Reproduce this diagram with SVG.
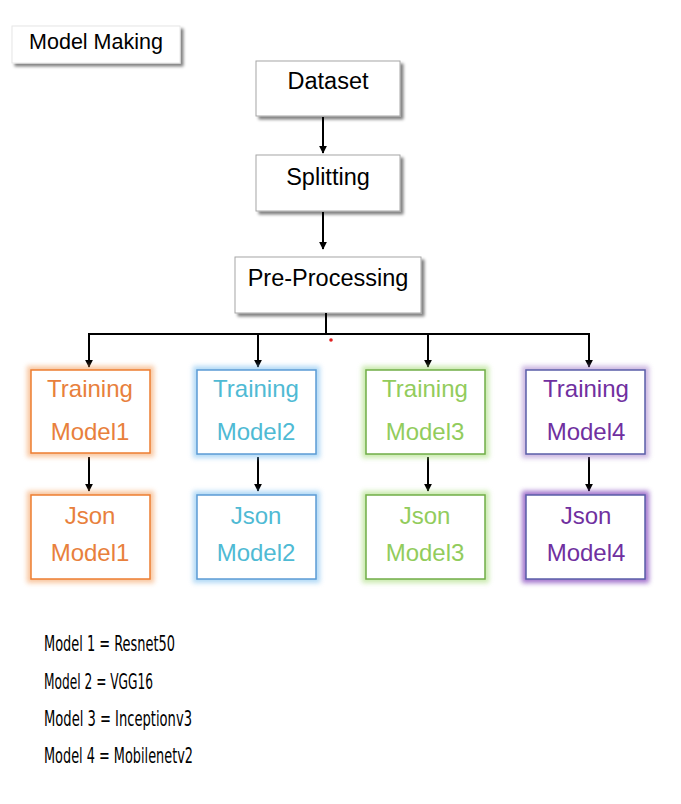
<svg xmlns="http://www.w3.org/2000/svg" width="681" height="804" viewBox="0 0 681 804">
<defs>
  <filter id="shadow" x="-20%" y="-20%" width="140%" height="150%">
    <feGaussianBlur in="SourceAlpha" stdDeviation="1.5"/>
    <feOffset dx="3" dy="3" result="b"/>
    <feComponentTransfer><feFuncA type="linear" slope="0.5"/></feComponentTransfer>
    <feMerge><feMergeNode/><feMergeNode in="SourceGraphic"/></feMerge>
  </filter>
  <filter id="glow" x="-20%" y="-20%" width="140%" height="140%">
    <feGaussianBlur stdDeviation="2.5"/>
  </filter>
  <marker id="arr" viewBox="0 0 10 10" refX="9" refY="5" markerWidth="4" markerHeight="4" orient="auto" markerUnits="strokeWidth">
    <path d="M0,0 L10,5 L0,10 z" fill="#000"/>
  </marker>
</defs>
<style>
  .box{fill:#fff;stroke:#a6a6a6;stroke-width:1}
  .t{font-family:"Liberation Sans",Arial,sans-serif;font-size:23.5px;text-anchor:middle}
  .m{font-family:"Liberation Sans",Arial,sans-serif;font-size:24px;text-anchor:middle}
  .leg{font-family:"DejaVu Sans Condensed","DejaVu Sans",sans-serif;font-size:21px;fill:#000}
  .c{fill:none;stroke:#000;stroke-width:2}
  .ca{fill:none;stroke:#000;stroke-width:2;marker-end:url(#arr)}
  .g{fill:none;stroke-width:8;filter:url(#glow);opacity:0.6}
  .in{fill:#fff;stroke-width:1.5}
</style>
<rect width="681" height="804" fill="#fff"/>

<g id="title">
  <rect x="12" y="26" width="168" height="37" class="box" style="stroke:#e6e6e6" filter="url(#shadow)"/>
  <text x="96" y="49" class="t" fill="#000" style="font-size:21.5px">Model Making</text>
</g>

<g id="dataset">
  <rect x="256" y="61" width="144" height="55" class="box" filter="url(#shadow)"/>
  <text x="328" y="89" class="t" fill="#000">Dataset</text>
</g>
<g id="splitting">
  <rect x="256" y="155" width="144" height="56" class="box" filter="url(#shadow)"/>
  <text x="328" y="185" class="t" fill="#000">Splitting</text>
</g>
<g id="preprocessing">
  <rect x="235" y="257" width="186" height="56" class="box" filter="url(#shadow)"/>
  <text x="328" y="286" class="t" fill="#000">Pre-Processing</text>
</g>

<g id="connectors">
  <line x1="323" y1="117" x2="323" y2="153" class="ca"/>
  <line x1="323" y1="212" x2="323" y2="249" class="ca"/>
  <polyline points="326,313 326,334" class="c"/>
  <line x1="88" y1="334" x2="590" y2="334" class="c"/>
  <line x1="89" y1="334" x2="89" y2="367" class="ca"/>
  <line x1="258" y1="334" x2="258" y2="367" class="ca"/>
  <line x1="428" y1="334" x2="428" y2="367" class="ca"/>
  <line x1="589" y1="334" x2="589" y2="367" class="ca"/>
  <line x1="89" y1="457" x2="89" y2="491" class="ca"/>
  <line x1="258" y1="457" x2="258" y2="491" class="ca"/>
  <line x1="428" y1="457" x2="428" y2="491" class="ca"/>
  <line x1="589" y1="457" x2="589" y2="491" class="ca"/>
  <circle cx="331" cy="340" r="1.8" fill="#e02020"/>
</g>

<g id="training1">
  <rect x="31" y="370" width="119" height="83" class="g" stroke="#f4a060"/>
  <rect x="31" y="370" width="119" height="83" class="in" stroke="#ed7d31"/>
  <text x="90" y="397" class="m" fill="#e8803c">Training</text>
  <text x="90" y="440" class="m" fill="#e8803c">Model1</text>
</g>
<g id="training2">
  <rect x="197" y="370" width="119" height="84" class="g" stroke="#7ec0f0"/>
  <rect x="197" y="370" width="119" height="84" class="in" stroke="#5b9bd5"/>
  <text x="256" y="397" class="m" fill="#4fbad4">Training</text>
  <text x="256" y="440" class="m" fill="#4fbad4">Model2</text>
</g>
<g id="training3">
  <rect x="366" y="370" width="119" height="84" class="g" stroke="#a6dc78"/>
  <rect x="366" y="370" width="119" height="84" class="in" stroke="#70ad47"/>
  <text x="425" y="397" class="m" fill="#92cc5c">Training</text>
  <text x="425" y="440" class="m" fill="#92cc5c">Model3</text>
</g>
<g id="training4">
  <rect x="526" y="370" width="119" height="84" class="g" stroke="#a884cc"/>
  <rect x="526" y="370" width="119" height="84" class="in" stroke="#5a5ea8"/>
  <text x="586" y="397" class="m" fill="#7030a0">Training</text>
  <text x="586" y="440" class="m" fill="#7030a0">Model4</text>
</g>

<g id="json1">
  <rect x="31" y="495" width="119" height="84" class="g" stroke="#f4a060"/>
  <rect x="31" y="495" width="119" height="84" class="in" stroke="#ed7d31"/>
  <text x="90" y="524" class="m" fill="#e8803c">Json</text>
  <text x="90" y="561" class="m" fill="#e8803c">Model1</text>
</g>
<g id="json2">
  <rect x="197" y="495" width="119" height="84" class="g" stroke="#7ec0f0"/>
  <rect x="197" y="495" width="119" height="84" class="in" stroke="#5b9bd5"/>
  <text x="256" y="524" class="m" fill="#4fbad4">Json</text>
  <text x="256" y="561" class="m" fill="#4fbad4">Model2</text>
</g>
<g id="json3">
  <rect x="366" y="495" width="119" height="84" class="g" stroke="#a6dc78"/>
  <rect x="366" y="495" width="119" height="84" class="in" stroke="#70ad47"/>
  <text x="425" y="524" class="m" fill="#92cc5c">Json</text>
  <text x="425" y="561" class="m" fill="#92cc5c">Model3</text>
</g>
<g id="json4">
  <rect x="526" y="495" width="119" height="84" class="g" stroke="#8a50c0" style="opacity:0.8"/>
  <rect x="526" y="495" width="119" height="84" class="in" stroke="#5a5ea8"/>
  <text x="586" y="524" class="m" fill="#7030a0">Json</text>
  <text x="586" y="561" class="m" fill="#7030a0">Model4</text>
</g>

<g id="legend">
  <text x="44" y="651" class="leg" textLength="131" lengthAdjust="spacingAndGlyphs">Model 1 = Resnet50</text>
  <text x="44" y="689" class="leg" textLength="109" lengthAdjust="spacingAndGlyphs">Model 2 = VGG16</text>
  <text x="44" y="726" class="leg" textLength="148" lengthAdjust="spacingAndGlyphs">Model 3 = Inceptionv3</text>
  <text x="44" y="763" class="leg" textLength="149" lengthAdjust="spacingAndGlyphs">Model 4 = Mobilenetv2</text>
</g>
</svg>
